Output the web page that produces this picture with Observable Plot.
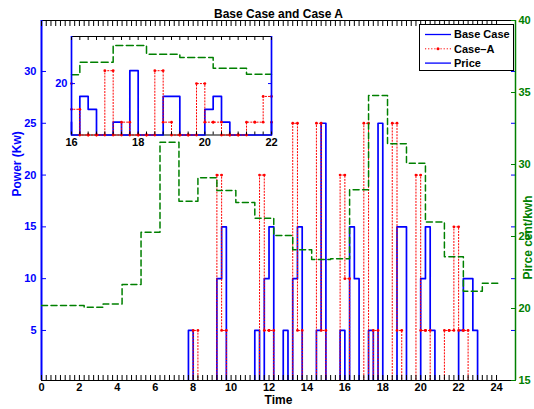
<!DOCTYPE html>
<html>
<head>
<meta charset="utf-8">
<script src="https://cdn.jsdelivr.net/npm/d3@7"></script>
<script src="https://cdn.jsdelivr.net/npm/@observablehq/plot@0.6"></script>
<style>
  body { margin: 0; background: #fff; }
  #wrap { position: relative; width: 534px; height: 409px; overflow: hidden; }
  #wrap > svg { position: absolute; left: 0; top: 0; }
</style>
</head>
<body>
<div id="wrap"></div>
<script>
// ---------------- data ----------------
// power (kW) per quarter hour, 00:00 .. 23:45 (4 values per hour)
const basePower = [
  0,0,0,0,  0,0,0,0,  0,0,0,0,  0,0,0,0,  0,0,0,0,  0,0,0,0,   // 0-5 h
  0,0,0,0,  0,0,0,5,                                           // 6-7 h
  0,0,0,0,  0,10,15,0,                                         // 8-9 h
  0,0,0,0,  0,5,0,10,                                          // 10-11 h
  15,0,0,5, 0,10,15,0,                                         // 12-13 h
  0,0,5,25, 0,0,0,5,                                           // 14-15 h
  0,15,10,0, 0,5,0,25,                                         // 16-17 h
  0,0,0,15, 15,0,0,0,                                          // 18-19 h
  10,15,5,0, 0,0,0,0,                                          // 20-21 h
  5,10,10,5, 0,0,0,0                                           // 22-23 h
];
const caseAPower = [
  0,0,0,0,  0,0,0,0,  0,0,0,0,  0,0,0,0,  0,0,0,0,  0,0,0,0,   // 0-5 h
  0,0,0,0,  0,0,0,0,                                           // 6-7 h
  5,0,0,0,  0,20,5,0,                                          // 8-9 h
  0,0,0,0,  0,0,20,5,                                          // 10-11 h
  5,0,0,0,  0,25,5,0,                                          // 12-13 h
  0,0,25,5, 0,0,0,20,                                          // 14-15 h
  10,0,0,0, 25,0,5,0,                                          // 16-17 h
  0,0,25,5, 0,0,0,20,                                          // 18-19 h
  5,5,0,0,  0,5,5,15,                                          // 20-21 h
  5,5,0,0,  0,0,0,0                                            // 22-23 h
];
const powerEnd = 24;
// price (cent/kWh), hourly steps
const priceStart = [0,1.25,2.25,3.25,4.25,5.25,6.25,7.25,8.25,9.25,10.25,11.25,
                    12.25,13.25,14.25,15.25,16.25,17.25,18.25,19.25,20.25,21.25,22.25,23.25];
const priceValue = [20.2,20.2,20.08,20.32,21.67,25.3,31.55,27.45,29.08,28.2,27.36,26.27,
                    25.07,24.08,23.4,23.45,28.24,34.8,31.44,30.09,26.0,23.6,21.2,21.76];
const priceEnd = 24.2;

const xLabelTicks = [0,2,4,6,8,10,12,14,16,18,20,22,24];
const powerTicks = [5,10,15,20,25,30];
const priceTicks = [15,20,25,30,35,40];
const insetXTicks = [16,18,20,22];
const insetYTicks = [20];
const legendLabels = ["Base Case", "Case\u2013A", "Price"];
const titleText = "Base Case and Case A";
const xTitle = "Time", yTitle = "Power (Kw)", y2Title = "Pirce cent/kwh";

// ---------------- helpers ----------------
const FONT = '"Liberation Sans", Arial, Helvetica, sans-serif';
const BLUE = "#0000ff", RED = "#ff0000", GREEN = "#008000";
const RED_DASH = "1.2,1.9";
const quarterStarts = basePower.map((_, i) => i * 0.25);
const minorTicks = d3.range(0, 24.001, 0.25);
const insetMinor = d3.range(16, 22.001, 0.25);

function stairVertices(starts, values, end) {
  const pts = [];
  values.forEach((v, i) => {
    if (i > 0) pts.push({t: starts[i], v: values[i - 1]});
    pts.push({t: starts[i], v});
  });
  pts.push({t: end, v: values[values.length - 1]});
  return pts;
}
function windowVertices(pts, lo, hi) {
  const valueAt = (t) => { let v = pts[0].v; for (const p of pts) { if (p.t <= t) v = p.v; else break; } return v; };
  const inside = pts.filter(p => p.t >= lo && p.t <= hi);
  const out = [];
  if (!inside.length || inside[0].t > lo) out.push({t: lo, v: valueAt(lo)});
  out.push(...inside);
  if (out[out.length - 1].t < hi) out.push({t: hi, v: valueAt(hi)});
  return out;
}

const baseV = stairVertices(quarterStarts, basePower, powerEnd);
const caseV = stairVertices(quarterStarts, caseAPower, powerEnd);
const priceV = stairVertices(priceStart, priceValue, priceEnd);

const W = 534, H = 409, ML = 41, MR = 19, MT = 20, MB = 29;
const baseStyle = {fontFamily: FONT, fontSize: "11px", fontWeight: "bold", overflow: "visible"};

// ---------------- main (power) ----------------
const main = Plot.plot({
  width: W, height: H, marginLeft: ML, marginRight: MR, marginTop: MT, marginBottom: MB,
  x: {domain: [0, 25], axis: null},
  y: {domain: [0.17, 34.92], axis: null},
  style: {...baseStyle, background: "white"},
  marks: [
    Plot.line(baseV, {x: "t", y: "v", stroke: BLUE, strokeWidth: 1.7, clip: true}),
    Plot.line(caseV, {x: "t", y: "v", stroke: RED, strokeWidth: 1, strokeDasharray: RED_DASH, clip: true}),
    Plot.dot(caseV, {x: "t", y: "v", r: 1.4, fill: RED, clip: true}),
    Plot.frame({stroke: "black", strokeWidth: 1}),
    Plot.ruleX([0], {stroke: BLUE, strokeWidth: 2}),
    Plot.axisX({anchor: "bottom", ticks: minorTicks, tickSize: 5, dy: -5, fill: "none", stroke: "black", label: null}),
    Plot.axisX({anchor: "top", ticks: minorTicks, tickSize: 5, dy: 5, fill: "none", stroke: "black", label: null}),
    Plot.axisX({anchor: "bottom", ticks: xLabelTicks, tickSize: 0, tickPadding: 3, fill: "black", label: null, tickFormat: d => String(d)}),
    Plot.axisY({anchor: "left", ticks: powerTicks, tickSize: 5, dx: 5, fill: "none", stroke: BLUE, label: null}),
    Plot.axisY({anchor: "right", ticks: powerTicks, tickSize: 5, dx: -5, fill: "none", stroke: BLUE, label: null}),
    Plot.axisY({anchor: "left", ticks: powerTicks, tickSize: 0, tickPadding: 5, fill: BLUE, label: null, tickFormat: d => String(d)}),
    Plot.text([titleText], {text: d => d, frameAnchor: "top", dy: -11, fontSize: 12, fill: "black"}),
    Plot.text([xTitle], {text: d => d, frameAnchor: "bottom", dy: 23, fontSize: 12, fill: "black"}),
    Plot.text([yTitle], {text: d => d, frameAnchor: "left", dx: -24, dy: -4, rotate: -90, fontSize: 12, fill: BLUE})
  ]
});

// ---------------- overlay (price, right axis) ----------------
const price = Plot.plot({
  width: W, height: H, marginLeft: ML, marginRight: MR, marginTop: MT, marginBottom: MB,
  x: {domain: [0, 25], axis: null},
  y: {domain: [15, 40], axis: null},
  style: {...baseStyle, background: "transparent"},
  marks: [
    Plot.line(priceV, {x: "t", y: "v", stroke: GREEN, strokeWidth: 1.5, strokeDasharray: "6,3.5", clip: true}),
    Plot.ruleX([25], {stroke: GREEN, strokeWidth: 1.5}),
    Plot.axisY({anchor: "right", ticks: priceTicks, tickSize: 5, dx: -5, fill: "none", stroke: GREEN, label: null}),
    Plot.axisY({anchor: "right", ticks: priceTicks, tickSize: 0, tickPadding: 3, fill: GREEN, label: null, tickFormat: d => String(d)}),
    Plot.text([y2Title], {text: d => d, frameAnchor: "right", dx: 13, dy: -5, rotate: -90, fontSize: 12, fill: GREEN})
  ]
});

// ---------------- inset (zoom 16..22 h) ----------------
const IL = 40, IT = 24, IW = 245, IH = 126;
const insetBase = windowVertices(baseV, 16, 22);
const insetCase = windowVertices(caseV, 16, 22);
const insetPrice = windowVertices(priceV, 16, 22);
const inset = Plot.plot({
  width: IW, height: IH, marginLeft: 71 - IL, marginRight: IL + IW - 271, marginTop: 36 - IT, marginBottom: IT + IH - 134.5,
  x: {domain: [16, 22], axis: null},
  y: {domain: [0, 38.3], axis: null},
  style: {...baseStyle, background: "transparent"},
  marks: [
    Plot.frame({fill: "white", stroke: "black", strokeWidth: 1}),
    Plot.line(insetPrice, {x: "t", y: "v", stroke: GREEN, strokeWidth: 1.5, strokeDasharray: "7,3.5"}),
    Plot.line(insetBase, {x: "t", y: "v", stroke: BLUE, strokeWidth: 1.7}),
    Plot.line(insetCase, {x: "t", y: "v", stroke: RED, strokeWidth: 1, strokeDasharray: RED_DASH}),
    Plot.dot(insetCase, {x: "t", y: "v", r: 1.4, fill: RED}),
    Plot.ruleX([16, 22], {stroke: BLUE, strokeWidth: 1.7}),
    Plot.axisX({anchor: "bottom", ticks: insetMinor, tickSize: 3, dy: -3, fill: "none", stroke: "black", label: null}),
    Plot.axisX({anchor: "top", ticks: insetMinor, tickSize: 3, dy: 3, fill: "none", stroke: "black", label: null}),
    Plot.axisX({anchor: "bottom", ticks: insetXTicks, tickSize: 0, tickPadding: 3, fill: "black", label: null, tickFormat: d => String(d)}),
    Plot.axisY({anchor: "left", ticks: insetYTicks, tickSize: 4, dx: 4, fill: "none", stroke: BLUE, label: null}),
    Plot.axisY({anchor: "right", ticks: insetYTicks, tickSize: 4, dx: -4, fill: "none", stroke: BLUE, label: null}),
    Plot.axisY({anchor: "left", ticks: insetYTicks, tickSize: 0, tickPadding: 4, fill: BLUE, label: null, tickFormat: d => String(d)})
  ]
});

const wrap = document.getElementById("wrap");
wrap.appendChild(main);
wrap.appendChild(price);
inset.style.left = IL + "px";
inset.style.top = IT + "px";
wrap.appendChild(inset);

// ---------------- legend ----------------
const LX = 419, LY = 24, LW = 94, LH = 46;
const leg = d3.create("svg")
  .attr("width", LW + 2).attr("height", LH + 2)
  .style("left", LX + "px").style("top", LY + "px")
  .style("font-family", FONT).style("font-size", "11px").style("font-weight", "bold")
  .style("overflow", "visible");
leg.append("rect").attr("x", 0.5).attr("y", 0.5).attr("width", LW).attr("height", LH)
  .attr("fill", "white").attr("stroke", "black").attr("stroke-width", 1);
const legendStyles = [
  {stroke: BLUE, dash: null, dot: false, width: 1.3},
  {stroke: RED, dash: RED_DASH, dot: true, width: 1},
  {stroke: BLUE, dash: null, dot: false, width: 1.3}
];
legendLabels.forEach((lab, i) => {
  const y = 10.5 + i * 14.3;
  const s = legendStyles[i];
  const ln = leg.append("line").attr("x1", 6).attr("x2", 32).attr("y1", y).attr("y2", y)
    .attr("stroke", s.stroke).attr("stroke-width", s.width);
  if (s.dash) ln.attr("stroke-dasharray", s.dash);
  if (s.dot) leg.append("circle").attr("cx", 19).attr("cy", y).attr("r", 1.5).attr("fill", RED);
  leg.append("text").attr("x", 35).attr("y", y).attr("dy", "0.36em").attr("fill", "black").text(lab);
});
wrap.appendChild(leg.node());
</script>
</body>
</html>
